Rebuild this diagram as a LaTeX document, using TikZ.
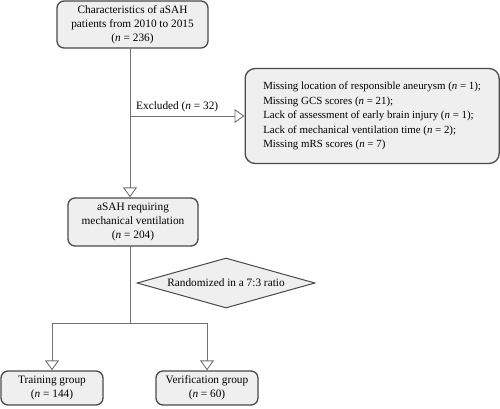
\documentclass[tikz,border=0pt]{standalone}
\usepackage{fontspec}
\setmainfont{Liberation Serif}
\usetikzlibrary{shapes.geometric,arrows.meta}
\definecolor{boxfill}{HTML}{EFEFEF}
\definecolor{boxline}{HTML}{4A4A4A}
\definecolor{conn}{HTML}{707070}
\begin{document}
\begin{tikzpicture}[x=1pt,y=-1pt,
  font=\fontsize{11.3}{14}\selectfont,
  box/.style={draw=boxline, fill=boxfill, line width=1.3pt, rounded corners=7pt, align=center, inner sep=0pt},
  conn/.style={draw=conn, line width=0.9pt},
  arr/.style={conn, -{Triangle[open, length=10pt, width=14pt, line width=0.9pt]}}]
\useasboundingbox (0,0) rectangle (500,408);
\node[box, minimum width=151, minimum height=47] (top) at (132.5,24.5)
  {Characteristics of aSAH\\patients from 2010 to 2015\\(\textit{n} = 236)};
\node[box, minimum width=254, minimum height=95, rounded corners=10pt, align=left, anchor=west, inner xsep=4pt,
  font=\fontsize{10.9}{14.5}\selectfont] (excl) at (244.5,116)
  {Missing location of responsible aneurysm (\textit{n} = 1);\\
   Missing GCS scores (\textit{n} = 21);\\
   Lack of assessment of early brain injury (\textit{n} = 1);\\
   Lack of mechanical ventilation time (\textit{n} = 2);\\
   Missing mRS scores (\textit{n} = 7)};
\node[box, minimum width=130, minimum height=48] (mid) at (133,222)
  {aSAH requiring\\mechanical ventilation\\(\textit{n} = 204)};
\node[draw=boxline, fill=boxfill, line width=1pt, diamond, aspect=3.56, minimum width=178, minimum height=50, inner sep=0pt] (rand) at (226,283)
  {Randomized in a 7:3 ratio};
\node[box, minimum width=102, minimum height=34] (train) at (52,388)
  {Training group\\(\textit{n} = 144)};
\node[box, minimum width=102, minimum height=34] (verif) at (207,388)
  {Verification group\\(\textit{n} = 60)};
% trunk coordinates
\coordinate (t1) at (130,48);
\coordinate (t2) at (130,116);
\coordinate (t3) at (130,246);
\coordinate (split) at (130,323);
\coordinate (sl) at (52,323);
\coordinate (sr) at (207,323);
\draw[conn] (t1) -- (t2);
\draw[arr] (t2) -- (excl.west);
\draw[arr] (t2) -- (t2 |- mid.north);
\node[anchor=south west, inner sep=0pt] (exlab) at (136,112) {Excluded (\textit{n} = 32)};
\draw[conn] (t3) -- (split);
\draw[conn] (sl) -- (sr);
\draw[arr] (sl) -- (train.north);
\draw[arr] (sr) -- (verif.north);
\end{tikzpicture}
\end{document}
